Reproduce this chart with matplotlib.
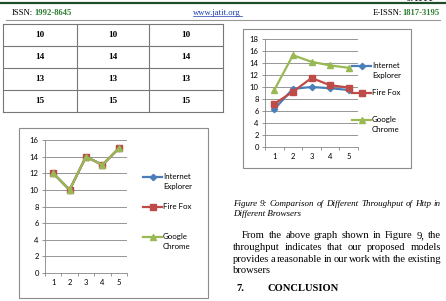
import matplotlib
matplotlib.use("Agg")
import matplotlib.pyplot as plt
from matplotlib.lines import Line2D
from matplotlib.patches import Rectangle

# data
browsers = ["Internet\nExplorer", "Fire Fox", "Google\nChrome"]
colors = ["#4A7EBB", "#BE4B48", "#98B954"]
markers = ["D", "s", "^"]
msizes = [3.2, 4.2, 4.8]
runs = [1, 2, 3, 4, 5]

# Figure 9 (top right)
ie_fig9 = [6.3, 9.7, 10.0, 9.8, 9.5]
ff_fig9 = [7.2, 9.2, 11.5, 10.3, 9.9]
gc_fig9 = [9.5, 15.3, 14.2, 13.6, 13.2]

# bottom left chart (all browsers identical)
ie_low = [12, 10, 14, 13, 15]
ff_low = [12, 10, 14, 13, 15]
gc_low = [12, 10, 14, 13, 15]

# table rows (three identical columns)
table_rows = [10, 14, 13, 15]

W, H = 446, 301
fig = plt.figure(figsize=(W / 100, H / 100), dpi=100)


def fx(x):
    return x / W


def fy(y):
    return 1 - y / H


def box(x0, y0, x1, y1):
    return [x0 / W, 1 - y1 / H, (x1 - x0) / W, (y1 - y0) / H]


serif = "Liberation Serif"
sans = "Lato"

# ---- page header
fig.add_artist(Line2D([0, 1], [fy(2.5), fy(2.5)], color="#1E4D2B", lw=1.6))
fig.text(fx(434), fy(1.2), "JATIT", ha="right", va="baseline", fontsize=7,
         fontweight="bold", family=serif, color="#333333")
fig.add_artist(Line2D([fx(6), fx(440)], [fy(19.5), fy(19.5)], color="#999999", lw=0.8))
hsize = 6.2
fig.text(fx(12), fy(15), "ISSN:", fontsize=hsize, family=serif, va="baseline")
fig.text(fx(34), fy(15), "1992-8645", fontsize=hsize, family=serif, va="baseline",
         fontweight="bold", color="#2E7D32")
fig.text(fx(217), fy(15), "www.jatit.org", fontsize=hsize, family=serif, va="baseline",
         ha="center", color="#1A3FB0")
fig.add_artist(Line2D([fx(193), fx(242)], [fy(16.3), fy(16.3)], color="#1A3FB0", lw=0.5))
fig.text(fx(373), fy(15), "E-ISSN:", fontsize=hsize, family=serif, va="baseline")
fig.text(fx(402), fy(15), "1817-3195", fontsize=hsize, family=serif, va="baseline",
         fontweight="bold", color="#2E7D32")

# ---- table
col_x = [3, 77, 149, 223]
row_y = [24, 46, 68, 90, 112]
tc = "#777777"
for x in col_x:
    fig.add_artist(Line2D([fx(x), fx(x)], [fy(row_y[0]), fy(row_y[-1])], color=tc, lw=0.8))
for y in row_y:
    fig.add_artist(Line2D([fx(col_x[0]), fx(col_x[-1])], [fy(y), fy(y)], color=tc, lw=0.8))
for i, v in enumerate(table_rows):
    yc = (row_y[i] + row_y[i + 1]) / 2
    for j in range(3):
        xc = (col_x[j] + col_x[j + 1]) / 2
        fig.text(fx(xc), fy(yc), str(v), ha="center", va="center", fontsize=6.6,
                 fontweight="bold", family=serif)


# ---- charts
def chart(frame, plot, ymax, series, legend_y, legend_x):
    fig.add_artist(Rectangle((fx(frame[0]), fy(frame[3])), (frame[2] - frame[0]) / W,
                             (frame[3] - frame[1]) / H, fill=False, ec="#8C8C8C", lw=0.8,
                             transform=fig.transFigure))
    ax = fig.add_axes(box(*plot))
    ax.set_xlim(0.5, 5.5)
    ax.set_ylim(0, ymax)
    ax.set_yticks(range(0, ymax + 1, 2))
    ax.set_xticks(runs)
    ax.set_xticks([0.5, 1.5, 2.5, 3.5, 4.5, 5.5], minor=True)
    ax.tick_params(axis="x", which="major", length=0, labelsize=5.5, pad=4)
    ax.tick_params(axis="x", which="minor", length=2.5, color="#868686", width=0.6)
    ax.tick_params(axis="y", length=2.5, color="#868686", width=0.6, labelsize=5.5, pad=2)
    for lab in ax.get_xticklabels() + ax.get_yticklabels():
        lab.set_family(sans)
    ax.grid(axis="y", color="#868686", lw=0.6)
    ax.set_axisbelow(True)
    for s in ["top", "right"]:
        ax.spines[s].set_visible(False)
    for s in ["left", "bottom"]:
        ax.spines[s].set_color("#868686")
        ax.spines[s].set_linewidth(0.6)
    ax.patch.set_alpha(0)
    for vals, c, m, ms in zip(series, colors, markers, msizes):
        ax.plot(runs, vals, color=c, marker=m, ms=ms, lw=1.6, mec=c, clip_on=False)
    # legend
    for name, c, m, ms, ly in zip(browsers, colors, markers, msizes, legend_y):
        fig.add_artist(Line2D([fx(legend_x - 20), fx(legend_x - 1)], [fy(ly), fy(ly)],
                              color=c, lw=1.6))
        fig.add_artist(Line2D([fx(legend_x - 10.5)], [fy(ly)], color=c, marker=m, ms=ms,
                              mec=c, lw=0))
        fig.text(fx(legend_x), fy(ly - 3.8), name, fontsize=5.7, family=sans, va="top",
                 ha="left", linespacing=1.45)
    return ax


chart((243, 29, 411, 168), (265, 39, 358, 147), 18, [ie_fig9, ff_fig9, gc_fig9],
      [66, 93, 120], 372)
chart((19, 128, 208, 298), (45, 140, 127, 273), 16, [ie_low, ff_low, gc_low],
      [177, 207, 237], 163)

# ---- body text
fig.canvas.draw()
renderer = fig.canvas.get_renderer()


def justified(words, x0, x1, y, size, **kw):
    texts = [fig.text(fx(x0), fy(y), w, fontsize=size, family=serif, va="baseline", **kw)
             for w in words]
    widths = [t.get_window_extent(renderer).width for t in texts]
    gap = (x1 - x0 - sum(widths)) / max(len(words) - 1, 1)
    x = x0
    for t, w in zip(texts, widths):
        t.set_position((fx(x), fy(y)))
        x += w + gap


cap = 6.5
body = 7.6
justified("Figure 9: Comparison of Different Throughput of Http in".split(), 233, 441, 206,
          cap, style="italic")
fig.text(fx(233), fy(216.5), "Different Browsers", fontsize=cap, family=serif,
         style="italic", va="baseline")
justified("From the above graph shown in Figure 9, the".split(), 242, 441, 238.5, body)
justified("throughput indicates that our proposed models".split(), 233, 441, 250, body)
justified("provides a reasonable in our work with the existing".split(), 233, 441, 261.5, body)
fig.text(fx(233), fy(273), "browsers", fontsize=body, family=serif, va="baseline")
fig.text(fx(236), fy(291), "7.", fontsize=7.6, family=serif, fontweight="bold", va="baseline")
fig.text(fx(268), fy(291), "CONCLUSION", fontsize=7.6, family=serif, fontweight="bold",
         va="baseline")

fig.savefig("out.png", dpi=100)
